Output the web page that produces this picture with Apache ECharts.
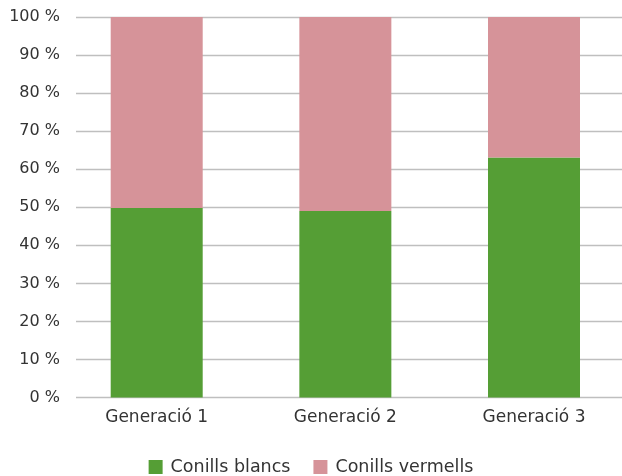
<!DOCTYPE html>
<html>
<head>
<meta charset="utf-8">
<script src="https://cdn.jsdelivr.net/npm/echarts@6/dist/echarts.min.js"></script>
<style>html,body{margin:0;padding:0;background:#fff;}#c{width:622px;height:476px;}</style>
</head>
<body>
<div id="c"></div>
<script>
const categories = ['Generació 1', 'Generació 2', 'Generació 3'];
const blancs = [49.8, 49.0, 63.1];
const vermells = [50.2, 51.0, 36.9];
const seriesNames = ['Conills blancs', 'Conills vermells'];
const colors = ['#559E35', '#D69399'];

const chart = echarts.init(document.getElementById('c'));
const font = '"DejaVu Sans", sans-serif';
chart.setOption({
  animation: false,
  textStyle: { fontFamily: font },
  grid: [
    { left: 76, right: 0, top: 17, bottom: 78.5 },
    { left: 156.7, right: 88, top: 17, bottom: 78.5 }
  ],
  xAxis: [
    { gridIndex: 0, type: 'category', data: categories, show: false },
    { gridIndex: 1, type: 'category', data: categories, boundaryGap: false,
      axisLine: { show: false }, axisTick: { show: false },
      axisLabel: { color: '#333', fontSize: 17, margin: 12, fontFamily: font } }
  ],
  yAxis: [
    { gridIndex: 0, type: 'value', min: 0, max: 100, interval: 10,
      axisLabel: { formatter: '{value} %', color: '#333', fontSize: 16, margin: 16, fontFamily: font },
      axisLine: { show: false }, axisTick: { show: false },
      splitLine: { lineStyle: { color: '#BFBFBF', width: 1.3 } } },
    { gridIndex: 1, type: 'value', min: 0, max: 100, show: false, splitLine: { show: false } }
  ],
  legend: {
    top: 453, left: 'center', itemWidth: 14, itemHeight: 14, itemGap: 23,
    icon: 'rect',
    textStyle: { color: '#333', fontSize: 17.5, fontFamily: font, padding: [0, 0, 0, 3] },
    data: seriesNames
  },
  series: [
    { name: seriesNames[0], type: 'bar', stack: 's', xAxisIndex: 1, yAxisIndex: 1, clip: false,
      barWidth: 92, data: blancs, itemStyle: { color: colors[0] } },
    { name: seriesNames[1], type: 'bar', stack: 's', xAxisIndex: 1, yAxisIndex: 1, clip: false,
      barWidth: 92, data: vermells, itemStyle: { color: colors[1] } }
  ]
});
</script>
</body>
</html>
